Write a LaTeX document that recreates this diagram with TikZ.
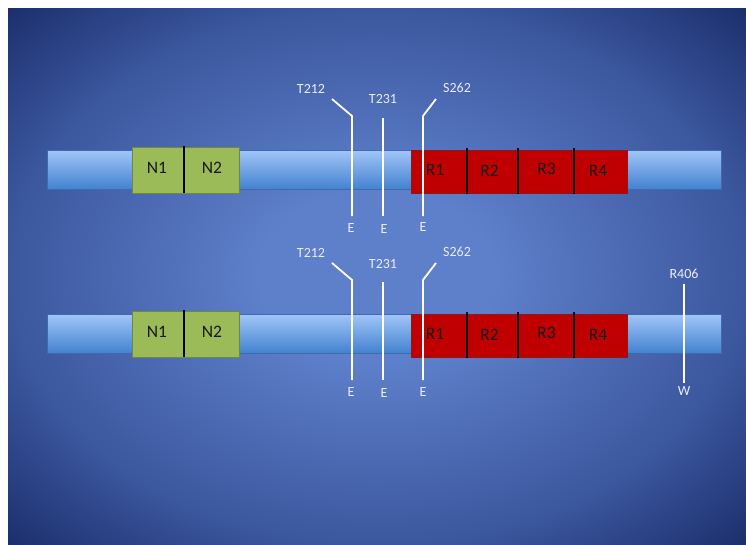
\documentclass[tikz,border=0pt]{standalone}
\usepackage{fontspec}
\setmainfont{Carlito}
\definecolor{bgC}{HTML}{5E7FCA}
\definecolor{bgM}{HTML}{3B579E}
\definecolor{bgO}{HTML}{1A2C69}
\definecolor{barT}{HTML}{A2C6F8}
\definecolor{barB}{HTML}{4382D0}
\definecolor{barE}{HTML}{3B6CB0}
\definecolor{grn}{HTML}{9BBB59}
\definecolor{grnE}{HTML}{71893F}
\definecolor{redC}{HTML}{C00000}
\definecolor{redE}{HTML}{8C1A1A}
\pgfdeclareradialshading{bgshade}{\pgfpoint{0bp}{0bp}}{color(0bp)=(bgC); color(8bp)=(bgC); color(25bp)=(bgM); color(36bp)=(bgO); color(50bp)=(bgO)}
\tikzset{
  bar/.style={top color=barT, bottom color=barB, draw=barE, line width=0.6pt},
  gbox/.style={draw=grnE, fill=grn, line width=0.6pt, inner sep=0pt},
  rbox/.style={draw=redE, fill=redC, line width=0.6pt, inner sep=0pt},
  boxtxt/.style={font=\fontsize{17.5}{17.5}\selectfont, text=black!90, inner sep=0pt},
  divider/.style={line width=2.4pt, black},
  lbl/.style={font=\fontsize{14}{14}\selectfont, text=white!92!blue, inner sep=0pt},
  site/.style={draw=white, line width=1.8pt},
}
\begin{document}
\begin{tikzpicture}[x=1pt,y=-1pt]
\useasboundingbox (0,0) rectangle (746,544);
\fill[white] (0,0) rectangle (746,544);
\shade[shading=bgshade] (8,8) rectangle (746,544);
\foreach \r/\dy in {a/0, b/164} {
  \begin{scope}[yshift=-\dy pt]
  \draw[bar] (47,150) rectangle (721,189);
  \node[gbox, minimum width=107pt, minimum height=46pt, anchor=north west] (\r g) at (132,147) {};
  \draw[divider] (184,146) -- (184,193);
  \node[rbox, minimum width=216pt, minimum height=43pt, anchor=north west] (\r r) at (411,150) {};
  \draw[divider] (467,148) -- (467,194);
  \draw[divider] (518,148) -- (518,194);
  \draw[divider] (574,148) -- (574,194);
  \node[boxtxt] (\r N1) at (157,168) {N1};
  \node[boxtxt] (\r N2) at (212,168) {N2};
  \node[boxtxt] (\r R1) at (435,169.5) {R1};
  \node[boxtxt] (\r R2) at (489.5,171) {R2};
  \node[boxtxt] (\r R3) at (546.5,169) {R3};
  \node[boxtxt] (\r R4) at (598,170.5) {R4};
  % sites
  \node[lbl] (\r t212) at (311,89) {T212};
  \node[lbl] (\r t231) at (383,99.5) {T231};
  \node[lbl] (\r s262) at (457,88) {S262};
  \coordinate (\r t212a) at (332,99);
  \coordinate (\r t212b) at (352,116);
  \coordinate (\r t212c) at (352,216);
  \coordinate (\r t231b) at (383,118);
  \coordinate (\r t231c) at (383,216);
  \coordinate (\r s262a) at (436,99);
  \coordinate (\r s262b) at (423,116);
  \coordinate (\r s262c) at (423,216);
  \draw[site] (\r t212a) -- (\r t212b) -- (\r t212c);
  \draw[site] (\r t231b) -- (\r t231c);
  \draw[site] (\r s262a) -- (\r s262b) -- (\r s262c);
  \node[lbl] (\r e1) at (351,228) {E};
  \node[lbl] (\r e2) at (384,229) {E};
  \node[lbl] (\r e3) at (423,227.5) {E};
  \end{scope}
}
\node[lbl] (r406) at (684,274) {R406};
\coordinate (r406a) at (684,284);
\coordinate (r406b) at (684,383);
\draw[site] (r406a) -- (r406b);
\node[lbl] (w) at (684,391) {W};
\end{tikzpicture}
\end{document}
